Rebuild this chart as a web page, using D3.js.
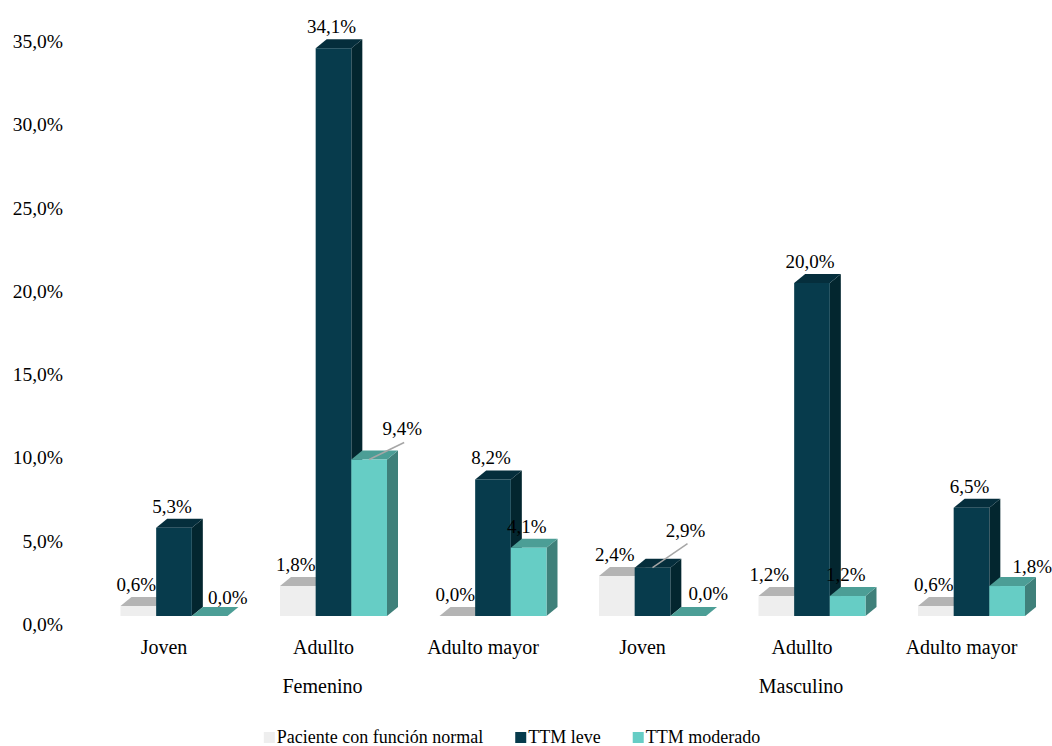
<!DOCTYPE html>
<html>
<head>
<meta charset="utf-8">
<script src="https://cdn.jsdelivr.net/npm/d3@7"></script>
<style>
  html, body { margin: 0; padding: 0; background: #fff; }
  svg { display: block; }
  svg text { font-family: "Liberation Serif", "Times New Roman", Tinos, "DejaVu Serif", serif; }
</style>
</head>
<body>
<svg id="chart" width="1052" height="746"></svg>
<script>
// ── Data ─────────────────────────────────────────────────────────────────────
const sexes     = ["Femenino", "Masculino"];
const ageGroups = ["Joven", "Adullto", "Adulto mayor"];
const series    = ["Paciente con función normal", "TTM leve", "TTM moderado"];

const normal   = [0.6, 1.8, 0.0, 2.4, 1.2, 0.6];
const leve     = [5.3, 34.1, 8.2, 2.9, 20.0, 6.5];
const moderado = [0.0, 9.4, 4.1, 0.0, 1.2, 1.8];

const yTicks = [0, 5, 10, 15, 20, 25, 30, 35];

// ── Look ─────────────────────────────────────────────────────────────────────
const FONT = '"Liberation Serif", "Times New Roman", Tinos, "DejaVu Serif", serif';
const FACE = {
  front: ["#eeeeee", "#073b4c", "#66cdc5"],
  top:   ["#b4b4b4", "#052e3c", "#4c9e96"],
  side:  ["#d2d2d2", "#03262f", "#3f807a"],
};
const DEPTH_X = 11, DEPTH_Y = 9;

// label nudges: "group-series" -> [dx, dy, leader?]
const LABEL_NUDGE = {
  "0-2": [20, 3],
  "1-2": [35, -9, true],
  "3-1": [35, -16, true],
  "3-2": [22, -1],
  "4-0": [-5, 0],
  "5-2": [27, 2],
};

const svg = d3.select("#chart").attr("font-family", FONT);

const cats = [];
sexes.forEach(s => ageGroups.forEach(a => cats.push(s + "|" + a)));
const values = [normal, leve, moderado];

const x0 = d3.scaleBand().domain(cats).range([94.25, 1051.25]);
const clusterW = 107;
const x1 = d3.scaleBand().domain(d3.range(series.length)).range([0, clusterW]);
const y = d3.scaleLinear().domain([0, 35]).range([616, 616 - 35 * 16.65]);

// ── Y axis labels (no line, no grid) ─────────────────────────────────────────
const fmt = v => d3.format(".1f")(v).replace(".", ",") + "%";

svg.append("g").selectAll("text")
  .data(yTicks).enter().append("text")
  .attr("x", 63)
  .attr("y", d => y(d) + 8)
  .attr("dy", "0.35em")
  .attr("text-anchor", "end")
  .attr("font-size", 19.5)
  .attr("fill", "#000")
  .text(d => fmt(d));

// ── 3D bars ──────────────────────────────────────────────────────────────────
const bars = [];
cats.forEach((c, gi) => {
  series.forEach((s, si) => {
    bars.push({ cat: c, gi, si, value: values[si][gi] });
  });
});

const barX = d => x0(d.cat) + (x0.bandwidth() - clusterW) / 2 + x1(d.si);
const bw = x1.bandwidth();

const barG = svg.append("g").attr("class", "bars");
const barSel = barG.selectAll("g").data(bars).enter().append("g");

// right face
barSel.append("path")
  .attr("fill", d => FACE.side[d.si])
  .attr("d", d => {
    const xr = barX(d) + bw, yt = y(d.value), yb = y(0);
    return `M${xr},${yt}L${xr + DEPTH_X},${yt - DEPTH_Y}L${xr + DEPTH_X},${yb - DEPTH_Y}L${xr},${yb}Z`;
  });

// top face
barSel.append("path")
  .attr("fill", d => FACE.top[d.si])
  .attr("d", d => {
    const xl = barX(d), yt = y(d.value);
    return `M${xl},${yt}L${xl + DEPTH_X},${yt - DEPTH_Y}L${xl + bw + DEPTH_X},${yt - DEPTH_Y}L${xl + bw},${yt}Z`;
  });

// front face
barSel.append("rect")
  .attr("x", d => barX(d))
  .attr("y", d => y(d.value))
  .attr("width", bw)
  .attr("height", d => y(0) - y(d.value))
  .attr("fill", d => FACE.front[d.si]);

// ── Data labels ──────────────────────────────────────────────────────────────
const labelG = svg.append("g").attr("class", "labels");
bars.forEach(d => {
  const nudge = LABEL_NUDGE[d.gi + "-" + d.si] || [0, 0];
  const cx = barX(d) + bw / 2 - 2 + nudge[0];
  const base = y(d.value) - DEPTH_Y - 6 + nudge[1];
  if (nudge[2]) {
    labelG.append("line")
      .attr("x1", barX(d) + bw / 2)
      .attr("y1", y(d.value))
      .attr("x2", cx + 2)
      .attr("y2", base + 7)
      .attr("stroke", "#a6a6a6")
      .attr("stroke-width", 1.5);
  }
  labelG.append("text")
    .attr("x", cx)
    .attr("y", base)
    .attr("text-anchor", "middle")
    .attr("font-size", 19)
    .attr("fill", "#000")
    .text(fmt(d.value));
});

// ── Category labels ──────────────────────────────────────────────────────────
const catCenter = c => x0(c) + x0.bandwidth() / 2 - 10;

svg.append("g").selectAll("text")
  .data(cats).enter().append("text")
  .attr("x", d => catCenter(d))
  .attr("y", 654)
  .attr("text-anchor", "middle")
  .attr("font-size", 20)
  .attr("fill", "#000")
  .text(d => d.split("|")[1]);

svg.append("g").selectAll("text")
  .data(sexes).enter().append("text")
  .attr("x", s => catCenter(s + "|" + ageGroups[1]) - 1)
  .attr("y", 693)
  .attr("text-anchor", "middle")
  .attr("font-size", 20)
  .attr("fill", "#000")
  .text(s => s);

// ── Legend ───────────────────────────────────────────────────────────────────
const legend = svg.append("g").attr("class", "legend");
const items = legend.selectAll("g").data(series).enter().append("g");
items.append("rect")
  .attr("width", 11).attr("height", 11)
  .attr("y", 732)
  .attr("fill", (d, i) => FACE.front[i]);
items.append("text")
  .attr("x", 13)
  .attr("y", 743)
  .attr("font-size", 18)
  .attr("fill", "#000")
  .text(d => d);

let offs = 0;
const widths = [];
items.each(function () {
  const w = 13 + this.querySelector("text").getComputedTextLength();
  widths.push(w);
});
const legendGap = 32;
const total = d3.sum(widths) + legendGap * (widths.length - 1);
const start = 512 - total / 2;
items.attr("transform", (d, i) => {
  const t = `translate(${start + offs},0)`;
  offs += widths[i] + legendGap;
  return t;
});
</script>
</body>
</html>
